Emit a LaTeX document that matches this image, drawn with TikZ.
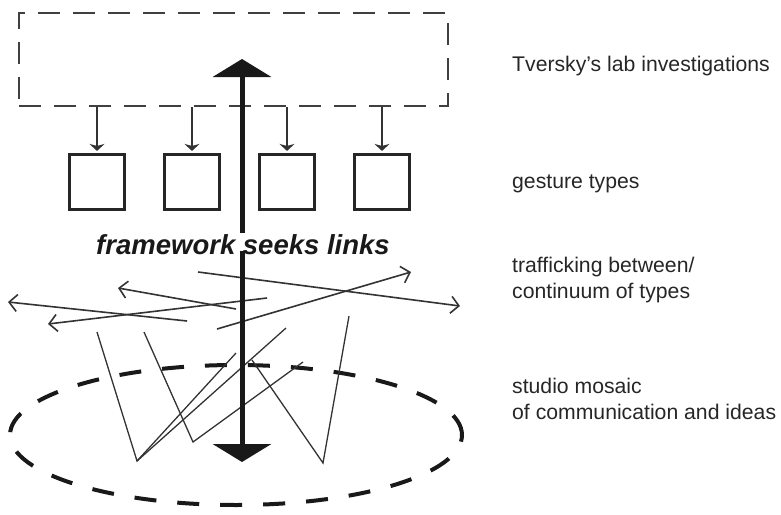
\documentclass[tikz,border=0pt]{standalone}
\usepackage{fontspec}
\setmainfont{Liberation Sans}
\usetikzlibrary{arrows.meta,shapes.geometric}

\tikzset{
  side label/.style={anchor=base west, inner sep=0pt, align=left,
    text=black!85, font=\fontsize{21.2}{26}\selectfont},
  lab box/.style={draw=black!75, line width=2.3pt, dash pattern=on 22pt off 13pt,
    minimum width=429pt, minimum height=93pt, inner sep=0pt},
  gesture box/.style={draw=black!85, line width=2.6pt, minimum size=55.5pt, inner sep=0pt},
  mosaic/.style={draw=black!90, line width=4pt, dash pattern=on 22pt off 21pt,
    ellipse, minimum width=452pt, minimum height=140pt, inner sep=0pt},
  type arrow/.style={draw=black!80, line width=1.6pt, shorten >=2pt,
    -{Stealth[length=7pt,width=15pt,inset=2pt]}},
  traffic/.style={draw=black!80, line width=1.6pt, -{Straight Barb[length=8pt,width=17pt]}},
  zigzag/.style={draw=black!80, line width=1.3pt},
  big arrow/.style={draw=black!90, line width=5pt, -{Triangle[length=18pt,width=58pt]}},
}

\begin{document}
\begin{tikzpicture}[x=1pt, y=-1pt]
  %%%%% frame %%%%%
  \useasboundingbox (0,0) rectangle (781,514);

  %%%%% boxes %%%%%
  \node[lab box] (lab) at (233.5,59.5) {};
  \node[gesture box] (g1) at (97,182) {};
  \node[gesture box] (g2) at (192,182) {};
  \node[gesture box] (g3) at (287,182) {};
  \node[gesture box] (g4) at (382,182) {};
  \node[mosaic] (studio) at (236,435) {};

  \draw[type arrow] (lab.south -| g1) -- (g1.north);
  \draw[type arrow] (lab.south -| g2) -- (g2.north);
  \draw[type arrow] (lab.south -| g3) -- (g3.north);
  \draw[type arrow] (lab.south -| g4) -- (g4.north);

  %%%%% trafficking %%%%%
  \draw[traffic] (198,272) -- (460,306);
  \draw[traffic] (217,329) -- (411,272);
  \draw[traffic] (236,309) -- (118,288);
  \draw[traffic] (187,321) -- (8,302);
  \draw[traffic] (267,298) -- (48,324);

  \draw[zigzag] (97,332) -- (137,461) -- (236,353);
  \draw[zigzag] (137,461) -- (286,328);
  \draw[zigzag] (144,332) -- (193,442) -- (303,362);
  \draw[zigzag] (252,360) -- (323,463) -- (349,316);

  %%%%% framework %%%%%
  \node[font=\fontsize{27.5}{32}\selectfont\bfseries\itshape, text=black!90, inner sep=2pt] (links) at (243,245) {framework seeks links};
  \coordinate (labtip) at (242,59);
  \coordinate (studiotip) at (242,462);
  \draw[big arrow] (links.north -| labtip) -- (labtip);
  \draw[big arrow] ([yshift=6pt]links.south -| studiotip) -- (studiotip);

  %%%%% labels %%%%%
  \node[side label] (labl) at (512,71) {Tversky’s lab investigations};
  \node[side label] (typel) at (512,188) {gesture types};
  \node[side label] (trafl) at (512,298) {trafficking between/\\continuum of types};
  \node[side label] (studl) at (512,419) {studio mosaic\\of communication and ideas};
\end{tikzpicture}
\end{document}
